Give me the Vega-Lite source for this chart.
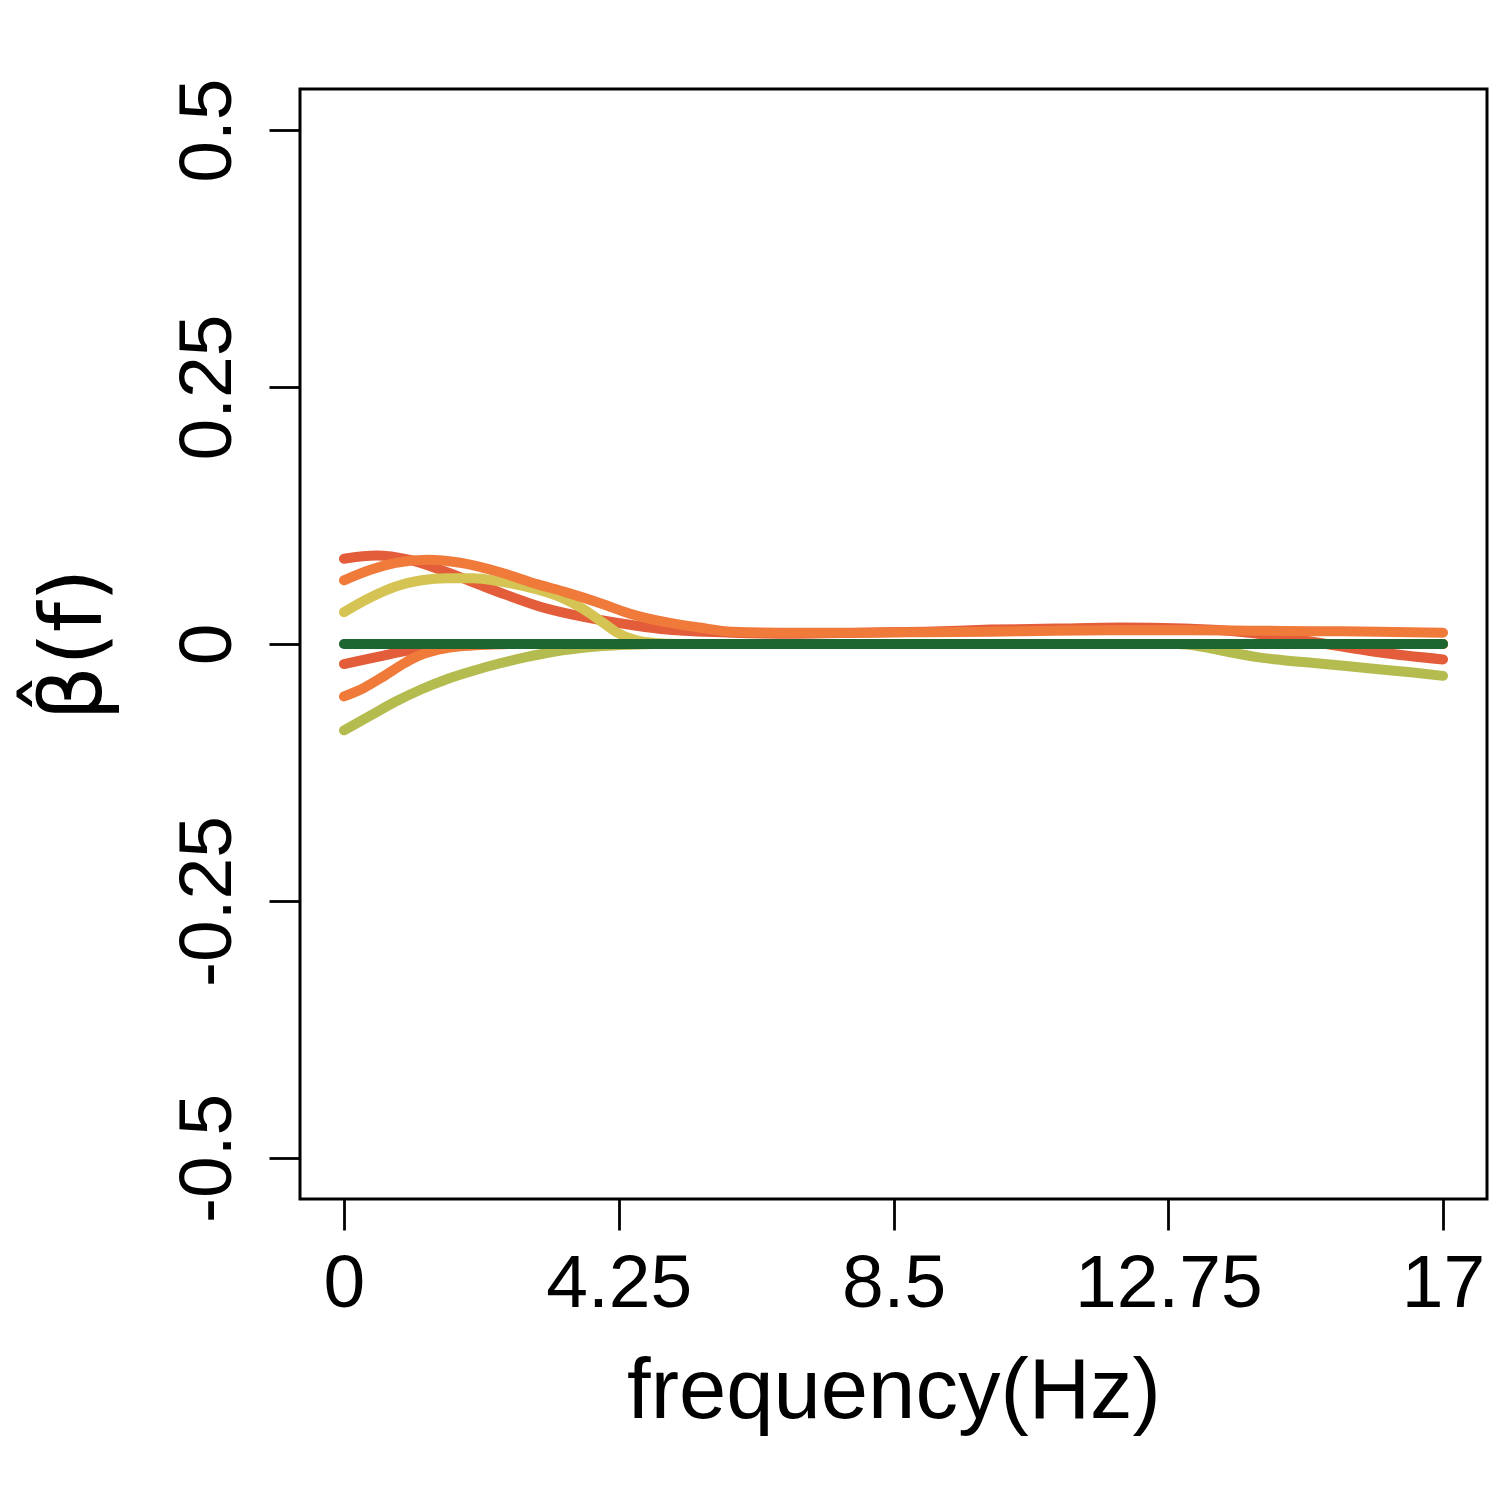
{
  "$schema": "https://vega.github.io/schema/vega-lite/v6.json",
  "background": "white",
  "autosize": {"type": "none"},
  "padding": {"left": 300, "top": 89, "right": 13, "bottom": 301},
  "width": 1187,
  "height": 1110,
  "data": {
    "values": [
      {"series": "s1", "f": 0, "beta": 0.083},
      {"series": "s1", "f": 0.5, "beta": 0.086},
      {"series": "s1", "f": 1, "beta": 0.082},
      {"series": "s1", "f": 1.5, "beta": 0.072},
      {"series": "s1", "f": 2, "beta": 0.06},
      {"series": "s1", "f": 2.5, "beta": 0.048},
      {"series": "s1", "f": 3, "beta": 0.037},
      {"series": "s1", "f": 3.5, "beta": 0.029},
      {"series": "s1", "f": 4, "beta": 0.023},
      {"series": "s1", "f": 4.5, "beta": 0.018},
      {"series": "s1", "f": 5, "beta": 0.014},
      {"series": "s1", "f": 6, "beta": 0.011},
      {"series": "s1", "f": 7, "beta": 0.01},
      {"series": "s1", "f": 8, "beta": 0.011},
      {"series": "s1", "f": 9, "beta": 0.012},
      {"series": "s1", "f": 10, "beta": 0.014},
      {"series": "s1", "f": 11, "beta": 0.015},
      {"series": "s1", "f": 12, "beta": 0.016},
      {"series": "s1", "f": 13, "beta": 0.015},
      {"series": "s1", "f": 14, "beta": 0.011},
      {"series": "s1", "f": 15, "beta": 0.002},
      {"series": "s1", "f": 16, "beta": -0.008},
      {"series": "s1", "f": 17, "beta": -0.015},

      {"series": "s2", "f": 0, "beta": -0.0195},
      {"series": "s2", "f": 0.3, "beta": -0.0155},
      {"series": "s2", "f": 0.6, "beta": -0.0115},
      {"series": "s2", "f": 0.9, "beta": -0.0075},
      {"series": "s2", "f": 1.2, "beta": -0.0045},
      {"series": "s2", "f": 1.5, "beta": -0.0025},
      {"series": "s2", "f": 1.8, "beta": -0.001},
      {"series": "s2", "f": 2.2, "beta": -0.0003},
      {"series": "s2", "f": 2.6, "beta": 0},
      {"series": "s2", "f": 17, "beta": 0},

      {"series": "s3", "f": 0, "beta": -0.084},
      {"series": "s3", "f": 0.4, "beta": -0.07},
      {"series": "s3", "f": 0.8, "beta": -0.056},
      {"series": "s3", "f": 1.2, "beta": -0.044},
      {"series": "s3", "f": 1.6, "beta": -0.034},
      {"series": "s3", "f": 2, "beta": -0.026},
      {"series": "s3", "f": 2.4, "beta": -0.019},
      {"series": "s3", "f": 2.8, "beta": -0.013},
      {"series": "s3", "f": 3.2, "beta": -0.008},
      {"series": "s3", "f": 3.6, "beta": -0.0045},
      {"series": "s3", "f": 4, "beta": -0.002},
      {"series": "s3", "f": 4.4, "beta": -0.0007},
      {"series": "s3", "f": 4.8, "beta": 0},
      {"series": "s3", "f": 12.9, "beta": 0},
      {"series": "s3", "f": 13.3, "beta": -0.003},
      {"series": "s3", "f": 13.7, "beta": -0.008},
      {"series": "s3", "f": 14.1, "beta": -0.0125},
      {"series": "s3", "f": 14.5, "beta": -0.0155},
      {"series": "s3", "f": 15, "beta": -0.0185},
      {"series": "s3", "f": 15.5, "beta": -0.0215},
      {"series": "s3", "f": 16, "beta": -0.0245},
      {"series": "s3", "f": 16.5, "beta": -0.0275},
      {"series": "s3", "f": 17, "beta": -0.031},

      {"series": "s4", "f": 0, "beta": 0.031},
      {"series": "s4", "f": 0.4, "beta": 0.045},
      {"series": "s4", "f": 0.8, "beta": 0.056},
      {"series": "s4", "f": 1.2, "beta": 0.062},
      {"series": "s4", "f": 1.6, "beta": 0.064},
      {"series": "s4", "f": 2, "beta": 0.064},
      {"series": "s4", "f": 2.4, "beta": 0.061},
      {"series": "s4", "f": 2.8, "beta": 0.056},
      {"series": "s4", "f": 3.1, "beta": 0.051},
      {"series": "s4", "f": 3.4, "beta": 0.044},
      {"series": "s4", "f": 3.7, "beta": 0.034},
      {"series": "s4", "f": 4, "beta": 0.021},
      {"series": "s4", "f": 4.2, "beta": 0.012},
      {"series": "s4", "f": 4.5, "beta": 0.004},
      {"series": "s4", "f": 4.8, "beta": 0.001},
      {"series": "s4", "f": 5.2, "beta": 0},
      {"series": "s4", "f": 17, "beta": 0},

      {"series": "s5", "f": 0, "beta": -0.051},
      {"series": "s5", "f": 0.3, "beta": -0.043},
      {"series": "s5", "f": 0.6, "beta": -0.032},
      {"series": "s5", "f": 0.9, "beta": -0.02},
      {"series": "s5", "f": 1.1, "beta": -0.013},
      {"series": "s5", "f": 1.4, "beta": -0.0065},
      {"series": "s5", "f": 1.7, "beta": -0.003},
      {"series": "s5", "f": 2.1, "beta": -0.001},
      {"series": "s5", "f": 2.6, "beta": 0},
      {"series": "s5", "f": 17, "beta": 0},

      {"series": "s6", "f": 0, "beta": 0.062},
      {"series": "s6", "f": 0.4, "beta": 0.072},
      {"series": "s6", "f": 0.8, "beta": 0.079},
      {"series": "s6", "f": 1.3, "beta": 0.082},
      {"series": "s6", "f": 1.8, "beta": 0.079},
      {"series": "s6", "f": 2.4, "beta": 0.07},
      {"series": "s6", "f": 3, "beta": 0.058},
      {"series": "s6", "f": 3.4, "beta": 0.051},
      {"series": "s6", "f": 4, "beta": 0.039},
      {"series": "s6", "f": 4.4, "beta": 0.03},
      {"series": "s6", "f": 5, "beta": 0.021},
      {"series": "s6", "f": 5.5, "beta": 0.016},
      {"series": "s6", "f": 6, "beta": 0.012},
      {"series": "s6", "f": 7, "beta": 0.011},
      {"series": "s6", "f": 8, "beta": 0.011},
      {"series": "s6", "f": 9, "beta": 0.0115},
      {"series": "s6", "f": 10, "beta": 0.012},
      {"series": "s6", "f": 11, "beta": 0.013},
      {"series": "s6", "f": 12, "beta": 0.0135},
      {"series": "s6", "f": 13, "beta": 0.0135},
      {"series": "s6", "f": 14, "beta": 0.013},
      {"series": "s6", "f": 15, "beta": 0.0125},
      {"series": "s6", "f": 16, "beta": 0.012},
      {"series": "s6", "f": 17, "beta": 0.011},

      {"series": "s7", "f": 0, "beta": 0},
      {"series": "s7", "f": 17, "beta": 0}
    ]
  },
  "mark": {"type": "line", "strokeWidth": 10, "strokeCap": "round", "interpolate": "monotone", "clip": true},
  "encoding": {
    "x": {
      "field": "f",
      "type": "quantitative",
      "scale": {"domain": [-0.68, 17.68], "nice": false, "zero": false},
      "axis": {
        "values": [0, 4.25, 8.5, 12.75, 17],
        "labelExpr": "toString(datum.value)",
        "title": "frequency(Hz)",
        "titleY": 218,
        "titleBaseline": "alphabetic",
        "titleFontSize": 85,
        "labelPadding": 17,
        "labelBaseline": "top"
      }
    },
    "y": {
      "field": "beta",
      "type": "quantitative",
      "scale": {"domain": [-0.54, 0.54], "nice": false, "zero": false},
      "axis": {
        "values": [-0.5, -0.25, 0, 0.25, 0.5],
        "labelExpr": "toString(datum.value)",
        "labelAngle": 270,
        "labelAlign": "center",
        "labelBaseline": "alphabetic",
        "labelPadding": 39,
        "title": "β̂(f)",
        "titleFont": "DejaVu Sans",
        "titleAngle": 270,
        "titleAlign": "center",
        "titleBaseline": "alphabetic",
        "titleX": -200,
        "titleY": 555,
        "titleFontSize": 86
      }
    },
    "color": {
      "field": "series",
      "type": "nominal",
      "scale": {
        "domain": ["s1", "s2", "s3", "s4", "s5", "s6", "s7"],
        "range": ["#e35d3a", "#e35d3a", "#b5bc4f", "#d5c453", "#f07a3a", "#f07a3a", "#1d6531"]
      },
      "legend": null
    }
  },
  "config": {
    "view": {"stroke": "black", "strokeWidth": 3},
    "font": "Liberation Sans",
    "axis": {
      "domain": false,
      "grid": false,
      "ticks": true,
      "tickColor": "black",
      "tickWidth": 2.8,
      "tickSize": 31,
      "labelColor": "black",
      "labelFontSize": 75,
      "labelFont": "Liberation Sans",
      "labelLimit": 0,
      "labelOverlap": false,
      "labelFlush": false,
      "titleColor": "black",
      "titleFontWeight": "normal"
    }
  }
}
